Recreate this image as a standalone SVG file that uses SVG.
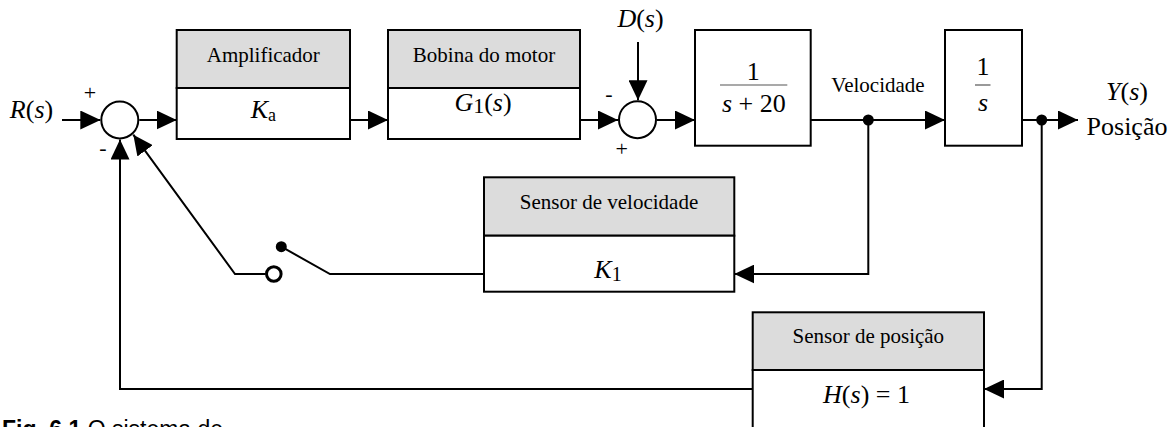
<svg xmlns="http://www.w3.org/2000/svg" width="1176" height="427" viewBox="0 0 1176 427">
<style>
.ln{fill:none;stroke:#000;stroke-width:2}
.ar{fill:none;stroke:#000;stroke-width:2;marker-end:url(#ah)}
.hd{fill:#dcdcdc;stroke:#000;stroke-width:2}
.bd{fill:#fff;stroke:#000;stroke-width:2}
.lb{font-family:"Liberation Serif","Times New Roman",serif;font-size:21px;fill:#000;text-anchor:middle}
.mt{font-family:"Liberation Serif","Times New Roman",serif;font-size:26px;fill:#000;text-anchor:middle}
.it{font-style:italic}
.sg{font-family:"Liberation Serif","Times New Roman",serif;font-size:22px;fill:#000;text-anchor:middle}
.fr{stroke:#555;stroke-width:1.2}
</style>
<defs>
<marker id="ah" markerUnits="userSpaceOnUse" markerWidth="20" markerHeight="19" refX="20" refY="9.5" orient="auto" viewBox="0 0 20 19"><path d="M0,0 L20,9.5 L0,19 z" fill="#000"/></marker>
</defs>
<rect width="1176" height="427" fill="#fff"/>

<g id="connectors">
<path class="ar" d="M62,120 H100.3"/>
<path class="ar" d="M139.3,120 H176.7"/>
<path class="ar" d="M350,120 H388"/>
<path class="ar" d="M580,120 H618"/>
<path class="ar" d="M638,42 V100.2"/>
<path class="ar" d="M657,120 H695"/>
<path class="ar" d="M810.7,120 H945"/>
<path class="ar" d="M1022,120 H1078"/>
<path class="ar" d="M868.3,120 V274 H734.3"/>
<path class="ln" d="M484,274 H330 L281.3,246.7"/>
<path class="ar" d="M265.5,274 H235 L133.3,134.7"/>
<path class="ar" d="M1041.7,120 V389 H984"/>
<path class="ar" d="M752.7,389 H120 V139.5"/>
<circle cx="868.3" cy="120" r="5.5" fill="#000"/>
<circle cx="1041.7" cy="120" r="5.5" fill="#000"/>
<circle cx="281.3" cy="246.7" r="5.5" fill="#000"/>
<circle cx="273.8" cy="274" r="7.3" fill="#fff" stroke="#000" stroke-width="3"/>
</g>

<g id="input">
<text class="mt" x="31.5" y="118"><tspan class="it">R</tspan>(<tspan class="it">s</tspan>)</text>
</g>

<g id="sum1">
<circle cx="119.8" cy="120" r="18.5" fill="#fff" stroke="#000" stroke-width="2"/>
<text class="sg" x="90" y="100">+</text>
<text class="sg" x="103" y="155">-</text>
</g>

<g id="amplificador">
<rect class="hd" x="176.7" y="30" width="173.3" height="58"/>
<rect class="bd" x="176.7" y="88" width="173.3" height="51"/>
<text class="lb" x="263.3" y="62">Amplificador</text>
<text class="mt" x="263.3" y="118"><tspan class="it">K</tspan><tspan font-size="18" dy="2.5">a</tspan></text>
</g>

<g id="bobina">
<rect class="hd" x="388" y="30" width="192" height="58"/>
<rect class="bd" x="388" y="88" width="192" height="51"/>
<text class="lb" x="484" y="62">Bobina do motor</text>
<text class="mt" x="483" y="111"><tspan class="it">G</tspan><tspan font-size="22" dy="2">1</tspan><tspan dy="-2">(</tspan><tspan class="it">s</tspan>)</text>
</g>

<g id="disturbance">
<text class="mt" x="640.5" y="27"><tspan class="it">D</tspan>(<tspan class="it">s</tspan>)</text>
</g>

<g id="sum2">
<circle cx="637.5" cy="119.7" r="18.5" fill="#fff" stroke="#000" stroke-width="2"/>
<text class="sg" x="609" y="101">-</text>
<text class="sg" x="621.7" y="156">+</text>
</g>

<g id="motor">
<rect class="bd" x="695" y="30" width="115.7" height="115.7"/>
<text class="mt" x="753.3" y="80">1</text>
<line class="fr" x1="720" y1="85" x2="787.3" y2="85"/>
<text class="mt" x="753.8" y="112"><tspan class="it">s</tspan> + 20</text>
</g>

<g id="velocidade-label">
<text class="lb" x="878" y="92">Velocidade</text>
</g>

<g id="integrador">
<rect class="bd" x="945" y="30" width="77" height="115.7"/>
<text class="mt" x="983" y="75">1</text>
<line class="fr" x1="975" y1="85" x2="990.5" y2="85"/>
<text class="mt it" x="983" y="111">s</text>
</g>

<g id="output">
<text class="mt" x="1127" y="100"><tspan class="it">Y</tspan>(<tspan class="it">s</tspan>)</text>
<text class="mt" x="1127" y="135">Posição</text>
</g>

<g id="sensor-velocidade">
<rect class="hd" x="484" y="177.3" width="250.3" height="58.4"/>
<rect class="bd" x="484" y="235.7" width="250.3" height="56"/>
<text class="lb" x="609" y="208.5">Sensor de velocidade</text>
<text class="mt" x="608" y="278"><tspan class="it">K</tspan><tspan font-size="20" dy="3">1</tspan></text>
</g>

<g id="sensor-posicao">
<rect class="hd" x="752.7" y="312.3" width="231.3" height="57.7"/>
<rect class="bd" x="752.7" y="370" width="231.3" height="72"/>
<text class="lb" x="868.3" y="343">Sensor de posição</text>
<text class="mt" x="866.5" y="403"><tspan class="it">H</tspan>(<tspan class="it">s</tspan>) = 1</text>
</g>

<g id="caption">
<text x="2" y="437" font-family="'Liberation Sans',Arial,sans-serif" font-size="23" fill="#000"><tspan font-weight="bold">Fig. 6.1</tspan> O sistema de</text>
</g>
</svg>
